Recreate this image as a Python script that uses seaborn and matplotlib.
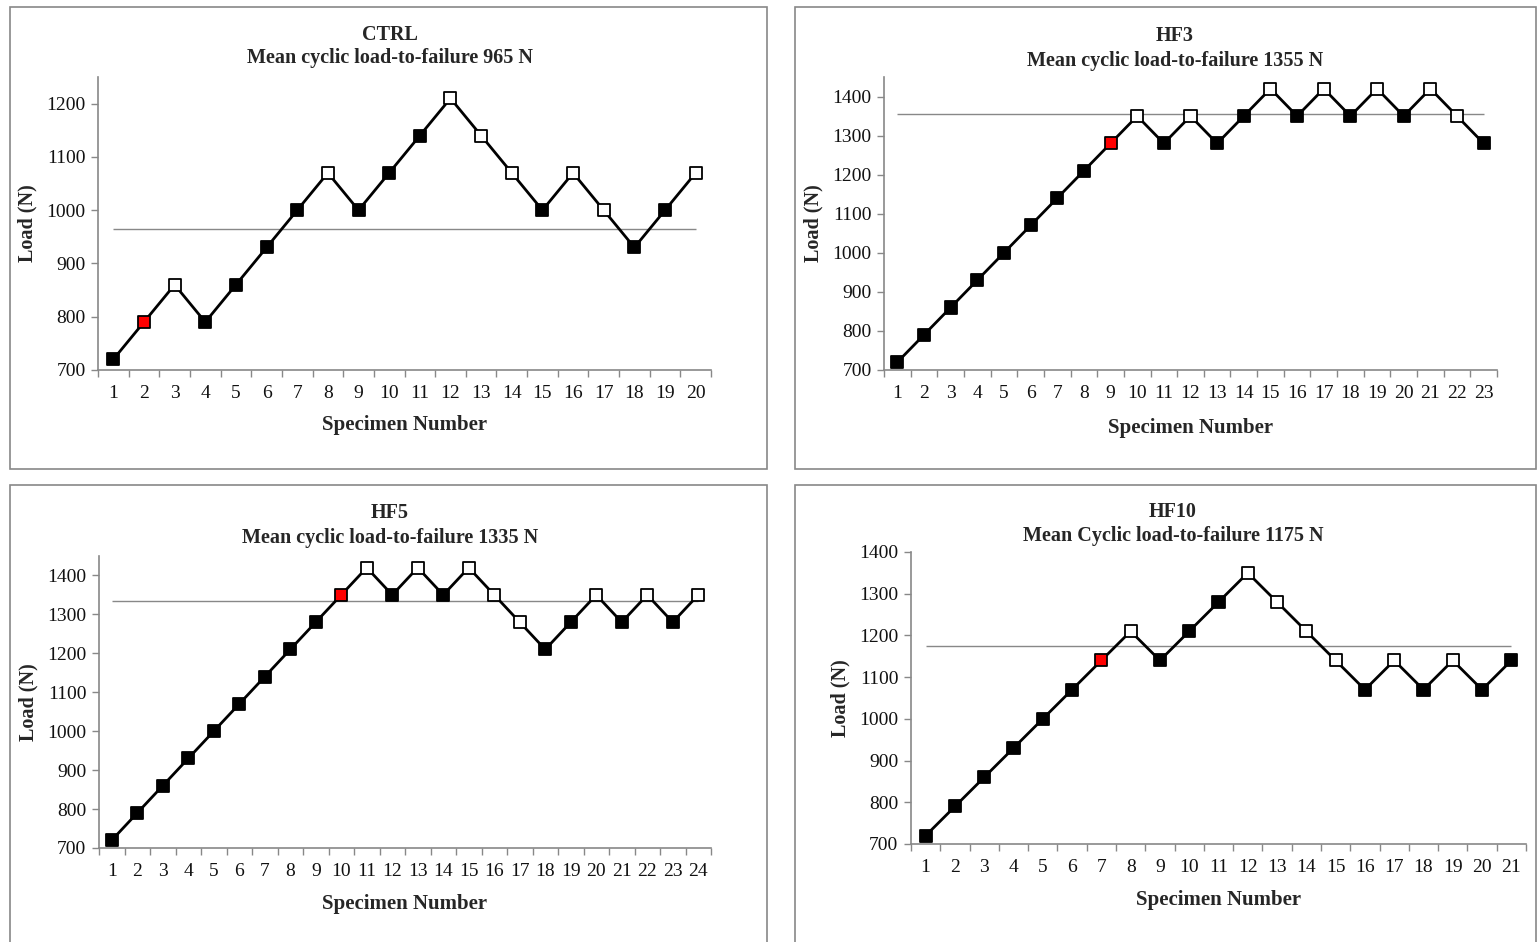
import numpy as np
import pandas as pd
import seaborn as sns
import matplotlib.pyplot as plt
from matplotlib.patches import Rectangle

sns.set_theme(style='white')
plt.rcParams['font.family'] = ['Liberation Serif', 'DejaVu Serif']

# Loads per specimen (N) and outcome: f = failure (filled), o = run-out (open), r = start (red)
ctrl_load = [720, 790, 860, 790, 860, 930, 1000, 1070, 1000, 1070,
             1140, 1210, 1140, 1070, 1000, 1070, 1000, 930, 1000, 1070]
ctrl_kind = ['f', 'r', 'o', 'f', 'f', 'f', 'f', 'o', 'f', 'f',
             'f', 'o', 'o', 'o', 'f', 'o', 'o', 'f', 'f', 'o']
ctrl_mean = 965

hf3_load = [720, 790, 860, 930, 1000, 1070, 1140, 1210, 1280, 1350, 1280, 1350,
            1280, 1350, 1420, 1350, 1420, 1350, 1420, 1350, 1420, 1350, 1280]
hf3_kind = ['f', 'f', 'f', 'f', 'f', 'f', 'f', 'f', 'r', 'o', 'f', 'o',
            'f', 'f', 'o', 'f', 'o', 'f', 'o', 'f', 'o', 'o', 'f']
hf3_mean = 1355

hf5_load = [720, 790, 860, 930, 1000, 1070, 1140, 1210, 1280, 1350, 1420, 1350,
            1420, 1350, 1420, 1350, 1280, 1210, 1280, 1350, 1280, 1350, 1280, 1350]
hf5_kind = ['f', 'f', 'f', 'f', 'f', 'f', 'f', 'f', 'f', 'r', 'o', 'f',
            'o', 'f', 'o', 'o', 'o', 'f', 'f', 'o', 'f', 'o', 'f', 'o']
hf5_mean = 1335

hf10_load = [720, 790, 860, 930, 1000, 1070, 1140, 1210, 1140, 1210, 1280,
             1350, 1280, 1210, 1140, 1070, 1140, 1070, 1140, 1070, 1140]
hf10_kind = ['f', 'f', 'f', 'f', 'f', 'f', 'r', 'o', 'f', 'f', 'f',
             'o', 'o', 'o', 'o', 'f', 'o', 'f', 'o', 'f', 'f']
hf10_mean = 1175

W, H = 1537, 942
fig = plt.figure(figsize=(W / 100, H / 100), dpi=100)

GRAY = '#888888'
face = {'f': 'black', 'o': 'white', 'r': '#ff0000'}

# panel frames (pixels: left, top, right, bottom)
for l, t, r, b in [(10, 7, 767, 469), (795, 7, 1536, 469),
                   (10, 485, 767, 948), (795, 485, 1536, 948)]:
    fig.patches.append(Rectangle((l / W, 1 - b / H), (r - l) / W, (b - t) / H,
                                 transform=fig.transFigure, fill=False,
                                 edgecolor=GRAY, linewidth=1.2))

panels = [
    ('CTRL', 'Mean cyclic load-to-failure 965 N', ctrl_load, ctrl_kind, ctrl_mean,
     (98, 77, 711, 370), (700, 1250), 390, 35, 58, 9),
    ('HF3', 'Mean cyclic load-to-failure 1355 N', hf3_load, hf3_kind, hf3_mean,
     (884, 77, 1497, 370), (700, 1450), 1175, 36, 61, 11),
    ('HF5', 'Mean cyclic load-to-failure 1335 N', hf5_load, hf5_kind, hf5_mean,
     (99, 556, 711, 848), (700, 1450), 390, 513, 538, 10),
    ('HF10', 'Mean Cyclic load-to-failure 1175 N', hf10_load, hf10_kind, hf10_mean,
     (911, 552, 1526, 844), (700, 1400), 1173, 512, 536, 10),
]

for name, sub, load, kind, mean, (l, t, r, b), ylim, cx, y1, y2, xpad in panels:
    ax = fig.add_axes([l / W, 1 - b / H, (r - l) / W, (b - t) / H])
    df = pd.DataFrame({'specimen': np.arange(1, len(load) + 1), 'load': load, 'kind': kind})

    ax.hlines(mean, 1, len(load), color=GRAY, linewidth=1, zorder=1)
    sns.lineplot(data=df, x='specimen', y='load', color='black', linewidth=2, ax=ax, zorder=2)
    sns.scatterplot(data=df, x='specimen', y='load', hue='kind', palette=face,
                    marker='s', s=75, edgecolor='black', linewidth=1.3,
                    legend=False, ax=ax, zorder=3)

    ax.set_xlim(0.5, len(load) + 0.5)
    ax.set_ylim(*ylim)
    ax.set_yticks(np.arange(700, ylim[1] + 1, 100))
    ax.set_xticks(df['specimen'])
    ax.set_xticks(np.arange(0.5, len(load) + 1), minor=True)
    ax.tick_params(axis='x', which='major', length=0, pad=11, labelsize=14, labelcolor='#111111')
    ax.tick_params(axis='x', which='minor', bottom=True, length=5, width=1, color=GRAY, direction='out')
    ax.tick_params(axis='y', which='major', left=True, length=5, width=1, color=GRAY,
                   direction='out', pad=4, labelsize=14, labelcolor='#111111')

    for side in ['top', 'right']:
        ax.spines[side].set_visible(False)
    for side in ['left', 'bottom']:
        ax.spines[side].set_color(GRAY)
        ax.spines[side].set_linewidth(1.2)

    ax.set_xlabel('Specimen Number', fontsize=15, fontweight='bold', labelpad=xpad)
    ax.set_ylabel('Load (N)', fontsize=14.5, fontweight='bold', labelpad=6)

    fig.text(cx / W, 1 - y1 / H, name, ha='center', va='center', fontsize=14.5, fontweight='bold')
    fig.text(cx / W, 1 - y2 / H, sub, ha='center', va='center', fontsize=14.5, fontweight='bold')

plt.savefig('out.png', dpi=100)
